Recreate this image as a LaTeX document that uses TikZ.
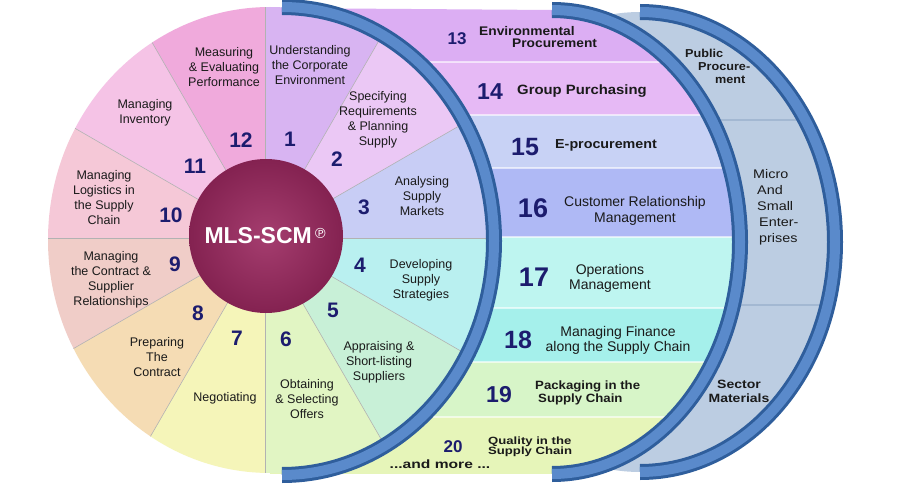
\documentclass[tikz,border=0pt]{standalone}
\usepackage{fontspec}
\setmainfont{Liberation Sans}
\newfontfamily\symfont{DejaVu Sans}

\definecolor{segA}{HTML}{D8B4F2}
\definecolor{segB}{HTML}{EBC8F5}
\definecolor{segC}{HTML}{C8CDF5}
\definecolor{segD}{HTML}{B9F0F0}
\definecolor{segE}{HTML}{C8F0D7}
\definecolor{segF}{HTML}{E1F5C3}
\definecolor{segG}{HTML}{F5F5B9}
\definecolor{segH}{HTML}{F5DCB4}
\definecolor{segI}{HTML}{F0CDC8}
\definecolor{segJ}{HTML}{F5C8D7}
\definecolor{segK}{HTML}{F5C3E6}
\definecolor{segL}{HTML}{F0AADC}
\definecolor{strA}{HTML}{DCAEF3}
\definecolor{strB}{HTML}{E6B9F5}
\definecolor{strC}{HTML}{C8D2F5}
\definecolor{strD}{HTML}{AFB9F5}
\definecolor{strE}{HTML}{BEF5F0}
\definecolor{strF}{HTML}{A5F0EB}
\definecolor{strG}{HTML}{D7F5C8}
\definecolor{strH}{HTML}{E6F5B9}
\definecolor{bandblue}{HTML}{BCCDE2}
\definecolor{bandline}{HTML}{A3B8D2}
\definecolor{ringdark}{HTML}{2F5E9C}
\definecolor{ringmid}{HTML}{5A8ACB}
\definecolor{mlsplum}{HTML}{9B285F}
\definecolor{numblue}{HTML}{1C1C6E}
\definecolor{txtdark}{HTML}{1A1A1A}

\begin{document}
\begin{tikzpicture}[x=1pt, y=-1pt,
  ring/.style={draw=ringdark, line width=3pt, double=ringmid, double distance=10pt},
  divider/.style={draw=black!30, line width=0.6pt},
  seglbl/.style={align=center, inner sep=0pt, text=txtdark, font=\fontsize{12.5}{15}\selectfont},
  segnum/.style={inner sep=0pt, text=numblue, font=\fontsize{21}{21}\selectfont\bfseries},
  stripnum/.style={inner sep=0pt, text=numblue, font=\fontsize{#1}{#1}\selectfont\bfseries},
  striplbl/.style={inner sep=0pt, text=txtdark, font=\fontsize{14}{15}\selectfont},
  widebold/.style n args={3}{inner sep=0pt, text=txtdark,
    font=\fontsize{#1}{#2}\selectfont\bfseries\addfontfeature{FakeStretch=#3}}]
\useasboundingbox (0,0) rectangle (900,500);
\fill[white] (0,0) rectangle (900,500);

% outer band
\fill[bandblue] (640,242) ellipse [x radius=195, y radius=230];
\begin{scope}
  \clip (640,242) ellipse [x radius=195, y radius=230];
  \draw[bandline, line width=2pt] (560,120) -- (860,120);
  \draw[bandline, line width=2pt] (560,305) -- (860,305);
\end{scope}
\draw[ring] (640,12) arc [start angle=-90, end angle=90, x radius=195, y radius=230];

% stripes 13-20
\begin{scope}
  \clip (270,8) -- (552,10) arc [start angle=-90, end angle=90, x radius=188, y radius=232] -- (270,474) -- cycle;
  \foreach \t/\b/\col in {8/62/strA, 62/115/strB, 115/168/strC, 168/237/strD,
                          237/308/strE, 308/362/strF, 362/417/strG, 417/474/strH}
    \fill[\col] (270,\t) rectangle (760,\b);
  \foreach \y in {62,115,168,237,308,362,417}
    \draw[white, opacity=0.6, line width=1.5pt] (270,\y) -- (760,\y);
\end{scope}
\draw[ring] (552,10) arc [start angle=-90, end angle=90, x radius=188, y radius=232];

% wheel
\begin{scope}
  \clip (270,240) ellipse [x radius=222, y radius=233];
  \foreach \k/\col in {1/segA, 2/segB, 3/segC, 4/segD, 5/segE, 6/segF,
                       7/segG, 8/segH, 9/segI, 10/segJ, 11/segK, 12/segL} {
    \pgfmathsetmacro\a{-120+30*\k}
    \fill[\col] (265,238) -- +(\a:400) -- +(\a+15:400) -- +(\a+30:400) -- cycle;
  }
  \foreach \a in {-90,-60,...,240}
    \draw[divider] (265,238) -- +(\a:300);
\end{scope}
\draw[ring] (282,7) arc [start angle=-90, end angle=90, x radius=212, y radius=234];

% hub
\node[circle, minimum size=154pt, inner sep=0pt, shade, inner color=mlsplum!90!white, outer color=mlsplum!85!black,
      text=white] (mls) at (266,236)
  {{\fontsize{23}{23}\selectfont\bfseries MLS-SCM}\,{\symfont\fontsize{14}{14}\selectfont\raisebox{5pt}{℗}}};

% wheel labels
\node[seglbl] (s1) at (310,65) {Understanding\\the Corporate\\Environment};
\node[seglbl] (s2) at (378,120) {Specifying\\Requirements\\\& Planning\\Supply};
\node[seglbl] (s3) at (422,196) {Analysing\\Supply\\Markets};
\node[seglbl] (s4) at (421,280) {Developing\\Supply\\Strategies};
\node[seglbl] (s5) at (379,362) {Appraising \&\\Short-listing\\Suppliers};
\node[seglbl] (s6) at (307,399) {Obtaining\\\& Selecting\\Offers};
\node[seglbl] (s7) at (225,398) {Negotiating};
\node[seglbl] (s8) at (157,357) {Preparing\\The\\Contract};
\node[seglbl] (s9) at (111,280) {Managing\\the Contract \&\\Supplier\\Relationships};
\node[seglbl] (s10) at (104,198) {Managing\\Logistics in\\the Supply\\Chain};
\node[seglbl] (s11) at (145,113) {Managing\\Inventory};
\node[seglbl] (s12) at (224,67) {Measuring\\\& Evaluating\\Performance};

\node[segnum] (n1) at (290,139) {1};
\node[segnum] (n2) at (337,159) {2};
\node[segnum] (n3) at (364,207) {3};
\node[segnum] (n4) at (360,265) {4};
\node[segnum] (n5) at (333,310) {5};
\node[segnum] (n6) at (286,339) {6};
\node[segnum] (n7) at (237,338) {7};
\node[segnum] (n8) at (198,313) {8};
\node[segnum] (n9) at (175,264) {9};
\node[segnum] (n10) at (171,215) {10};
\node[segnum] (n11) at (195,166) {11};
\node[segnum] (n12) at (241,140) {12};

% stripe labels
\node[stripnum=17] (b13) at (457,39) {13};
\node[stripnum=23] (b14) at (490,92) {14};
\node[stripnum=25] (b15) at (525,147) {15};
\node[stripnum=27] (b16) at (533,208) {16};
\node[stripnum=27] (b17) at (534,277) {17};
\node[stripnum=25] (b18) at (518,340) {18};
\node[stripnum=23] (b19) at (499,395) {19};
\node[stripnum=17] (b20) at (453,447) {20};

\node[widebold={12.5}{11.5}{1.1}, align=left, anchor=west] (t13) at (479,37) {Environmental\\\hspace*{33pt}Procurement};
\node[widebold={13.5}{14}{1.1}, anchor=west] (t14) at (517,91) {Group Purchasing};
\node[widebold={13}{14}{1.1}, anchor=west] (t15) at (555,145) {E-procurement};
\node[striplbl, align=center, font=\fontsize{14}{16}\selectfont] (t16) at (635,211) {Customer Relationship\\Management};
\node[striplbl, align=center] (t17) at (610,278) {Operations\\Management};
\node[striplbl, align=center] (t18) at (618,340) {Managing Finance\\along the Supply Chain};
\node[widebold={12}{13}{1.1}, align=left, anchor=west] (t19) at (535,393) {Packaging in the\\\hspace*{3pt}Supply Chain};
\node[widebold={10.5}{10}{1.25}, align=left, anchor=west] (t20) at (488,447) {Quality in the\\Supply Chain};
\node[widebold={12}{12}{1.3}] (more) at (440,464) {...and more ...};

% band labels
\node[widebold={11.5}{13}{1.1}, align=left, anchor=west] (pub) at (685,66)
  {Public\\\hspace*{13pt}Procure-\\\hspace*{30pt}ment};
\node[striplbl, align=left, anchor=west, font=\fontsize{12.5}{16}\selectfont\addfontfeature{FakeStretch=1.15}] (micro) at (753,207)
  {Micro\\\hspace*{4pt}And\\\hspace*{4pt}Small\\\hspace*{6pt}Enter-\\\hspace*{6pt}prises};
\node[widebold={12}{14}{1.17}, align=center] (sector) at (739,391) {Sector\\Materials};
\end{tikzpicture}
\end{document}
